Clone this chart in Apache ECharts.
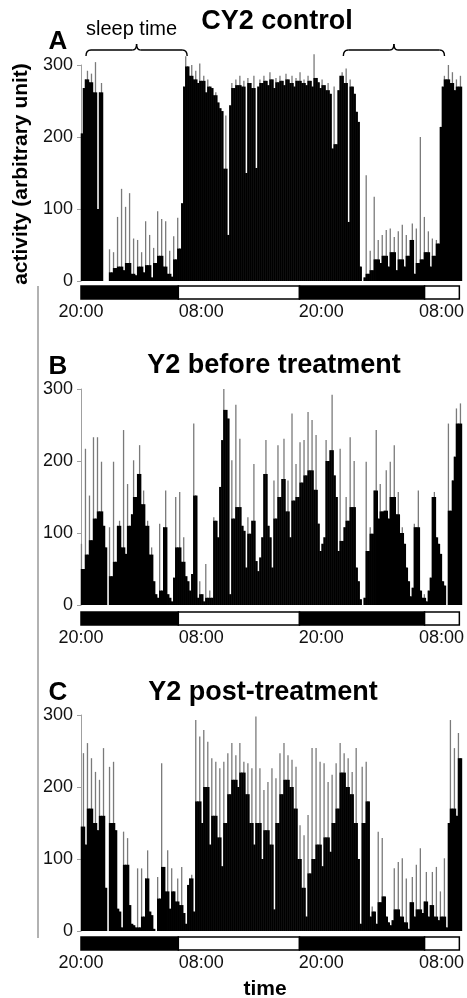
<!DOCTYPE html>
<html><head><meta charset="utf-8">
<script src="https://cdn.jsdelivr.net/npm/echarts@6/dist/echarts.min.js"></script>
<style>html,body{margin:0;padding:0;background:#fff}#c{width:467px;height:998px}</style>
</head><body><div id="c"></div>
<script>
// ---------- data ----------
const hourTickLabels = ['20:00', '08:00', '20:00', '08:00'];   // every 12 h from 20:00
const hourSpan = 37.785;                                          // hours shown on the x axis
const lightPhases = [[0, 9.72, 0], [9.72, 21.82, 1], [21.82, 34.31, 0], [34.31, 37.785, 1]]; // [start h, end h, lightsOn]
const sleepBrackets = [[0.5, 10.6, 'sleep time'], [26.2, 36.3, '']]; // hours
const yTicks = [0, 100, 200, 300];
const panelLetters = ['A', 'B', 'C'];
const panelTitles = ['CY2 control', 'Y2 before treatment', 'Y2 post-treatment'];

const activityA = [
205,268,280,292,276,288,262,304,100,262,
275,0,0,0,44,12,40,18,89,20,
128,15,103,25,122,10,59,8,57,20,
40,12,83,22,64,5,46,25,97,35,
86,20,83,10,42,6,62,30,88,45,
108,270,312,298,285,300,280,292,275,302,
278,285,262,280,270,268,258,262,248,240,
236,156,230,64,244,275,268,280,272,285,
270,278,150,282,275,268,285,157,270,280,
275,285,278,272,290,280,268,282,276,285,
278,272,288,280,275,285,270,282,278,290,
275,280,272,285,278,270,315,282,276,268,
280,272,265,275,260,184,270,190,265,285,
290,275,295,82,280,270,260,235,221,20,
0,5,147,10,42,15,117,30,57,25,
64,35,71,20,73,40,61,15,69,30,
78,20,64,35,57,80,10,73,25,200,
30,89,40,69,20,59,35,57,52,214,
270,285,280,300,275,290,265,280,270,285
];
const activityB = [
85,50,217,70,152,90,233,120,233,130,
199,110,80,0,108,40,199,60,110,117,
80,243,71,168,110,126,201,150,182,222,
140,159,110,117,70,80,33,15,10,113,
20,108,159,15,10,5,38,150,80,157,
60,94,40,33,20,43,252,152,10,33,
15,5,57,10,20,10,122,117,94,164,
229,300,271,259,15,201,120,278,136,231,
110,103,52,122,99,117,196,61,47,66,
94,182,229,110,94,52,173,120,222,150,
175,231,130,173,94,266,145,196,150,226,
170,229,180,268,187,257,160,236,113,75,
85,94,229,200,215,292,180,150,75,217,
89,108,150,117,233,136,200,52,33,8,
0,10,199,75,108,99,159,243,120,168,
130,131,187,120,199,150,222,126,157,100,
108,85,52,33,12,24,113,108,159,20,
10,15,5,20,38,150,157,94,85,71,
33,27,0,252,131,173,206,273,252,280
];
const activityC = [
145,247,120,261,170,240,150,221,140,210,
160,254,60,0,228,150,235,140,31,27,
5,138,92,129,36,10,8,5,87,5,
87,20,73,112,27,22,3,0,75,45,
233,89,55,112,31,87,55,41,73,36,
89,25,10,64,73,78,27,293,180,270,
150,279,200,263,120,240,160,235,130,226,
90,235,150,247,190,261,210,244,200,261,
220,235,190,233,150,226,120,298,150,226,
100,196,140,207,120,226,30,212,150,247,
190,261,210,244,200,238,170,228,100,147,
60,133,20,161,80,254,100,254,120,235,
90,233,130,207,110,217,150,233,170,261,
220,247,200,240,190,221,150,254,100,10,
228,150,235,180,20,34,27,10,138,40,
129,48,20,12,8,15,87,30,96,20,
101,12,73,3,40,75,20,92,30,115,
25,41,82,20,36,82,20,89,15,55,
20,101,5,150,293,170,254,160,275,240
];

// ---------- layout ----------
const FONT = '"Liberation Sans", Arial, sans-serif';
const layout = [
  { top: 65,  lightTop: 286, titleX: 277, titleY: 22,  letterY: 42 },
  { top: 389, lightTop: 612, titleX: 274, titleY: 366, letterY: 367 },
  { top: 715, lightTop: 937, titleX: 263, titleY: 693, letterY: 693 }
];
const series = [activityA, activityB, activityC];
const binIndex = activityA.map((_, i) => i);

// dark (fully covered) part of each bin: the level also reached by at least one neighbouring bin
function coreOf(v) {
  return v.map((x, i) => {
    const l = i > 0 ? v[i - 1] : 0, r = i < v.length - 1 ? v[i + 1] : 0;
    return Math.min(x, Math.max(l, r));
  });
}

const grid = [], xAxis = [], yAxis = [], ser = [], graphic = [];
layout.forEach((L, p) => {
  grid.push({ left: 81, right: 5, top: L.top, height: 216 });
  grid.push({ left: 81, right: 5, top: L.lightTop, height: 13 });
  xAxis.push({ type: 'category', gridIndex: 2 * p, data: binIndex, boundaryGap: true,
    axisLine: { show: false }, axisTick: { show: false }, axisLabel: { show: false }, splitLine: { show: false } });
  xAxis.push({ type: 'value', gridIndex: 2 * p + 1, min: 0, max: hourSpan, interval: 12,
    axisLine: { show: false }, axisTick: { show: false }, splitLine: { show: false },
    axisLabel: { fontSize: 18, fontFamily: FONT, color: '#111', margin: 4,
      formatter: v => (Math.abs(v % 12) < 1e-6 ? hourTickLabels[Math.round(v / 12)] : '') } });
  yAxis.push({ type: 'value', gridIndex: 2 * p, min: yTicks[0], max: yTicks[yTicks.length - 1], interval: 100,
    axisLine: { show: true, lineStyle: { color: '#a0a0a0', width: 1 } },
    axisTick: { show: true, length: 4, lineStyle: { color: '#a0a0a0' } },
    axisLabel: { fontSize: 18, fontFamily: FONT, color: '#111', margin: 8 },
    splitLine: { show: false } });
  yAxis.push({ type: 'value', gridIndex: 2 * p + 1, min: 0, max: 1, show: false });
  const v = series[p];
  ser.push({ type: 'bar', xAxisIndex: 2 * p, yAxisIndex: 2 * p, data: v, barWidth: 1.3, barGap: '-100%',
    itemStyle: { color: '#7a7a7a' }, clip: false, silent: true });
  ser.push({ type: 'bar', xAxisIndex: 2 * p, yAxisIndex: 2 * p, data: coreOf(v), barWidth: 2.4, barGap: '-100%',
    itemStyle: { color: '#000' }, clip: false, silent: true });
  ser.push({ type: 'custom', xAxisIndex: 2 * p + 1, yAxisIndex: 2 * p + 1, data: lightPhases, silent: true,
    renderItem: (params, api) => {
      const a = api.coord([api.value(0), 1]);
      const b = api.coord([api.value(1), 0]);
      return { type: 'rect', shape: { x: a[0], y: a[1], width: b[0] - a[0], height: b[1] - a[1] },
        style: { fill: api.value(2) ? '#fff' : '#000', stroke: '#000', lineWidth: 1.5 } };
    } });
  graphic.push({ type: 'text', x: L.titleX, y: L.titleY,
    style: { text: panelTitles[p], font: 'bold 27px ' + FONT, fill: '#000', textAlign: 'center', textVerticalAlign: 'middle' } });
  graphic.push({ type: 'text', x: 58, y: L.letterY,
    style: { text: panelLetters[p], font: 'bold 26px ' + FONT, fill: '#000', textAlign: 'center', textVerticalAlign: 'middle' } });
});

graphic.push({ type: 'text', x: 21, y: 174, rotation: Math.PI / 2,
  style: { text: 'activity (arbitrary unit)', font: 'bold 21px ' + FONT, fill: '#000', textAlign: 'center', textVerticalAlign: 'middle' } });
graphic.push({ type: 'text', x: 265, y: 989,
  style: { text: 'time', font: 'bold 21px ' + FONT, fill: '#000', textAlign: 'center', textVerticalAlign: 'middle' } });
graphic.push({ type: 'line', shape: { x1: 38, y1: 286, x2: 38, y2: 938 }, style: { stroke: '#999', lineWidth: 1.5 } });

const chart = echarts.init(document.getElementById('c'), null, { renderer: 'canvas' });
chart.setOption({ animation: false, backgroundColor: '#fff', grid, xAxis, yAxis, series: ser, graphic });

// sleep-time brackets, positioned through the hour axis of panel A
const extra = [];
const st = { stroke: '#000', fill: null, lineWidth: 1.4 };
sleepBrackets.forEach(([h0, h1, label]) => {
  const x1 = chart.convertToPixel({ xAxisIndex: 1 }, h0);
  const x2 = chart.convertToPixel({ xAxisIndex: 1 }, h1);
  const xc = (x1 + x2) / 2, y = 50;
  extra.push({ type: 'bezierCurve', shape: { x1: x1, y1: y + 6, cpx1: x1, cpy1: y, x2: x1 + 5, y2: y }, style: st });
  extra.push({ type: 'line', shape: { x1: x1 + 5, y1: y, x2: xc - 4, y2: y }, style: st });
  extra.push({ type: 'bezierCurve', shape: { x1: xc - 4, y1: y, cpx1: xc, cpy1: y, x2: xc, y2: y - 6 }, style: st });
  extra.push({ type: 'bezierCurve', shape: { x1: xc, y1: y - 6, cpx1: xc, cpy1: y, x2: xc + 4, y2: y }, style: st });
  extra.push({ type: 'line', shape: { x1: xc + 4, y1: y, x2: x2 - 5, y2: y }, style: st });
  extra.push({ type: 'bezierCurve', shape: { x1: x2 - 5, y1: y, cpx1: x2, cpy1: y, x2: x2, y2: y + 6 }, style: st });
  if (label) extra.push({ type: 'text', x: xc - 5, y: 29,
    style: { text: label, font: '20px ' + FONT, fill: '#000', textAlign: 'center', textVerticalAlign: 'middle' } });
});
chart.setOption({ graphic: graphic.concat(extra) });
</script></body></html>
